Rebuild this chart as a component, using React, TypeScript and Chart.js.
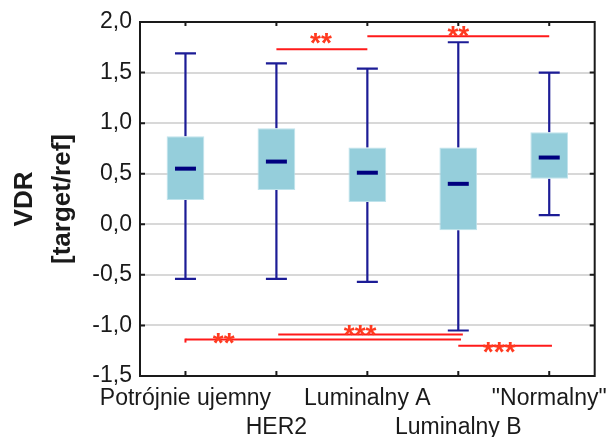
import React, { useEffect, useRef } from 'react';
import { Chart, registerables } from 'chart.js';

Chart.register(...registerables);

const categories = ['Potrójnie ujemny', 'HER2', 'Luminalny A', 'Luminalny B', '"Normalny"'];
const whiskerMin = [-0.54, -0.54, -0.57, -1.05, 0.09];
const q1 = [0.24, 0.34, 0.22, -0.06, 0.45];
const median = [0.55, 0.62, 0.51, 0.40, 0.66];
const q3 = [0.87, 0.95, 0.76, 0.76, 0.91];
const whiskerMax = [1.69, 1.59, 1.54, 1.80, 1.50];

const yTicks = [-1.5, -1.0, -0.5, 0.0, 0.5, 1.0, 1.5, 2.0];

// significance annotations (x in category-index units, y in data units)
const sigFrom = [1, 2, 0, 1.02, 3];
const sigTo = [2, 4, 3.03, 3.05, 4.03];
const sigY = [1.73, 1.86, -1.14, -1.09, -1.2];
const sigText = ['**', '**', '**', '***', '***'];
const sigTextX = [1.49, 3.0, 0.42, 1.92, 3.45];
const sigTextY = [1.865, 1.93, -1.1, -1.025, -1.198];

const fmt = (v: number) => v.toFixed(1).replace('.', ',');

function catX(chart: any, f: number) {
  const xs = chart.scales.x;
  const p0 = xs.getPixelForValue(0);
  const p1 = xs.getPixelForValue(1);
  return p0 + f * (p1 - p0);
}

const boxPlugin = {
  id: 'boxExtras',
  beforeDatasetsDraw(chart: any) {
    const ctx = chart.ctx;
    const ys = chart.scales.y;
    ctx.save();
    ctx.strokeStyle = '#1c1c96';
    ctx.lineWidth = 2.2;
    categories.forEach((_, i) => {
      const x = catX(chart, i);
      const yMax = ys.getPixelForValue(whiskerMax[i]);
      const yMin = ys.getPixelForValue(whiskerMin[i]);
      const yQ3 = ys.getPixelForValue(q3[i]);
      const yQ1 = ys.getPixelForValue(q1[i]);
      ctx.beginPath();
      ctx.moveTo(x, yMax);
      ctx.lineTo(x, yQ3);
      ctx.moveTo(x, yQ1);
      ctx.lineTo(x, yMin);
      ctx.moveTo(x - 10.5, yMax);
      ctx.lineTo(x + 10.5, yMax);
      ctx.moveTo(x - 10.5, yMin);
      ctx.lineTo(x + 10.5, yMin);
      ctx.stroke();
    });
    ctx.restore();
  },
  afterDatasetsDraw(chart: any) {
    const ctx = chart.ctx;
    const ys = chart.scales.y;
    ctx.save();
    ctx.strokeStyle = '#00007f';
    ctx.lineWidth = 4;
    categories.forEach((_, i) => {
      const x = catX(chart, i);
      const y = ys.getPixelForValue(median[i]);
      ctx.beginPath();
      ctx.moveTo(x - 10.5, y);
      ctx.lineTo(x + 10.5, y);
      ctx.stroke();
    });
    // significance lines
    ctx.strokeStyle = '#ff1a1a';
    ctx.lineWidth = 2;
    sigY.forEach((v, i) => {
      const y = ys.getPixelForValue(v);
      ctx.beginPath();
      ctx.moveTo(catX(chart, sigFrom[i]), y);
      ctx.lineTo(catX(chart, sigTo[i]), y);
      ctx.stroke();
    });
    // small end tick on the long lower line
    {
      const y = ys.getPixelForValue(sigY[2]);
      const x = catX(chart, sigFrom[2]);
      ctx.beginPath();
      ctx.moveTo(x, y - 1);
      ctx.lineTo(x, y + 3);
      ctx.stroke();
    }
    ctx.fillStyle = '#ff3a20';
    ctx.font = 'bold 28px "Liberation Sans", Arial, sans-serif';
    ctx.textAlign = 'center';
    ctx.textBaseline = 'alphabetic';
    sigText.forEach((t, i) => {
      const x = catX(chart, sigTextX[i]);
      const y = ys.getPixelForValue(sigTextY[i]);
      ctx.fillText(t, x, y + 28 * 0.57);
    });
    ctx.restore();
  },
  afterDraw(chart: any) {
    const ctx = chart.ctx;
    const { left, right, top, bottom } = chart.chartArea;
    const ys = chart.scales.y;
    ctx.save();
    ctx.strokeStyle = '#1a1a1a';
    ctx.lineWidth = 2;
    ctx.strokeRect(left, top, right - left, bottom - top);
    ctx.beginPath();
    yTicks.forEach((v) => {
      const y = ys.getPixelForValue(v);
      ctx.moveTo(left, y);
      ctx.lineTo(left + 5, y);
      ctx.moveTo(right, y);
      ctx.lineTo(right - 5, y);
    });
    categories.forEach((_, i) => {
      const x = catX(chart, i);
      ctx.moveTo(x, top);
      ctx.lineTo(x, top + 4);
      ctx.moveTo(x, bottom);
      ctx.lineTo(x, bottom - 5);
    });
    ctx.stroke();
    ctx.restore();
  },
};

export default function App() {
  const ref = useRef<HTMLCanvasElement>(null);
  useEffect(() => {
    if (!ref.current) return;
    const chart = new Chart(ref.current, {
      type: 'bar',
      data: {
        labels: categories.map((c, i) => (i % 2 === 0 ? [c, ''] : ['', c])),
        datasets: [
          {
            data: q1.map((v, i) => [v, q3[i]]) as any,
            backgroundColor: '#95cedb',
            borderColor: '#bfe3ec',
            borderWidth: 1,
            borderSkipped: false,
            categoryPercentage: 1,
            barPercentage: 0.415,
          },
        ],
      },
      options: {
        animation: false,
        responsive: false,
        events: [],
        layout: { padding: { top: 22, right: 14, left: 0, bottom: 0 } },
        plugins: { legend: { display: false }, tooltip: { enabled: false } },
        scales: {
          x: {
            offset: true,
            grid: { display: false, drawTicks: false },
            border: { display: false },
            ticks: {
              autoSkip: false,
              maxRotation: 0,
              minRotation: 0,
              padding: 8,
              color: '#1a1a1a',
              font: { family: '"Liberation Sans", Arial, sans-serif', size: 23, lineHeight: 1.26 },
            },
            afterFit(scale: any) {
              scale.height = 61;
            },
          },
          y: {
            min: -1.5,
            max: 2.0,
            afterBuildTicks(scale: any) {
              scale.ticks = yTicks.map((v) => ({ value: v }));
            },
            grid: { color: '#d8d8d8', lineWidth: 2, drawTicks: false },
            border: { display: false },
            ticks: {
              padding: 8,
              color: '#1a1a1a',
              font: { family: '"Liberation Sans", Arial, sans-serif', size: 23 },
              callback: (v: any) => fmt(Number(v)),
            },
            title: {
              display: true,
              text: ['VDR', '[target/ref]'],
              color: '#1a1a1a',
              padding: { top: 6, bottom: 0 },
              font: { family: '"Liberation Sans", Arial, sans-serif', size: 26, weight: 'bold', lineHeight: 1.45 },
            },
            afterFit(scale: any) {
              scale.width = 140;
            },
          },
        },
      },
      plugins: [boxPlugin],
    });
    return () => chart.destroy();
  }, []);
  return (
    <div style={{ position: 'absolute', left: 0, top: 0, width: 616, height: 437, background: '#fff' }}>
      <canvas ref={ref} width={616} height={437} style={{ display: 'block' }} />
    </div>
  );
}
